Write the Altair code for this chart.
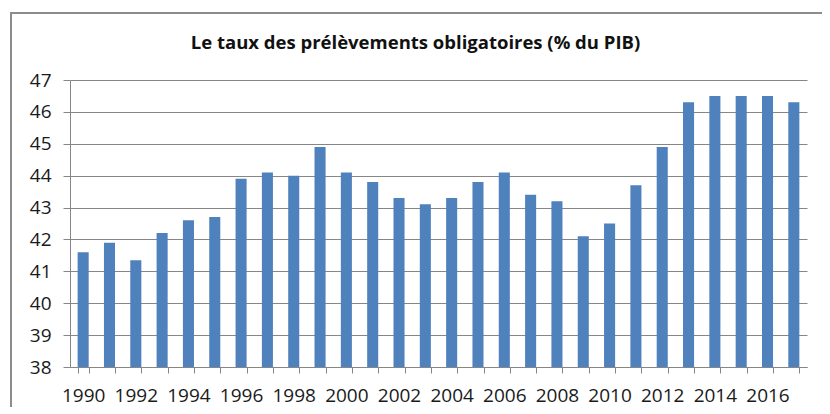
import altair as alt
import pandas as pd

years = list(range(1990, 2018))
values = [41.6, 41.9, 41.35, 42.2, 42.6, 42.7, 43.9, 44.1, 44.0, 44.9,
          44.1, 43.8, 43.3, 43.1, 43.3, 43.8, 44.1, 43.4, 43.2, 42.1,
          42.5, 43.7, 44.9, 46.3, 46.5, 46.5, 46.5, 46.3]
title = "Le taux des prélèvements obligatoires (% du PIB)"

df = pd.DataFrame({"annee": [str(y) for y in years], "taux": values})

FONT = "Open Sans"
GRAY = "#868686"

W, H = 737, 287

bars = alt.Chart(df).mark_bar(color="#4F81BD").encode(
    x=alt.X("annee:O", sort=None,
            scale=alt.Scale(paddingInner=0.58, paddingOuter=0.29),
            axis=alt.Axis(title=None, labelAngle=0, tickBand="extent",
                          labelExpr="toNumber(datum.value) % 2 == 0 ? datum.value : ''",
                          labelFont=FONT, labelFontSize=19, labelColor="#1a1a1a",
                          labelPadding=13, tickSize=6, tickColor=GRAY,
                          domainColor=GRAY, labelOverlap=False)),
    y=alt.Y("taux:Q",
            scale=alt.Scale(domain=[38, 47], zero=False, nice=False),
            axis=alt.Axis(title=None, values=list(range(38, 48)),
                          labelFont=FONT, labelFontSize=19, labelColor="#1a1a1a",
                          labelPadding=12, tickSize=7, tickColor=GRAY,
                          domainColor=GRAY, gridColor=GRAY, gridOpacity=1)),
    y2=alt.datum(38),
)

title_df = pd.DataFrame({"t": [title]})
title_mark = alt.Chart(title_df).mark_text(
    font=FONT, fontSize=18.5, fontWeight="bold", color="#111",
    align="center", baseline="alphabetic"
).encode(x=alt.value(W / 2 - 23), y=alt.value(-31), text="t:N")

frame_v = alt.Chart(df).mark_rule(color="#8c8c8c", strokeWidth=2).encode(
    x=alt.value(-59), y=alt.value(-67), y2=alt.value(H + 60))
frame_h = alt.Chart(df).mark_rule(color="#8c8c8c", strokeWidth=2).encode(
    x=alt.value(-60), x2=alt.value(W + 40), y=alt.value(-67))

chart = alt.layer(bars, title_mark, frame_v, frame_h).properties(
    width=W, height=H,
    autosize=alt.AutoSizeParams(type="none"),
    padding={"left": 62, "top": 72, "right": 15, "bottom": 40},
).configure_view(stroke=None).configure_axis(grid=True).configure_axisX(grid=False)

chart.save("out.html", embed_options={"renderer": "svg", "actions": False})
